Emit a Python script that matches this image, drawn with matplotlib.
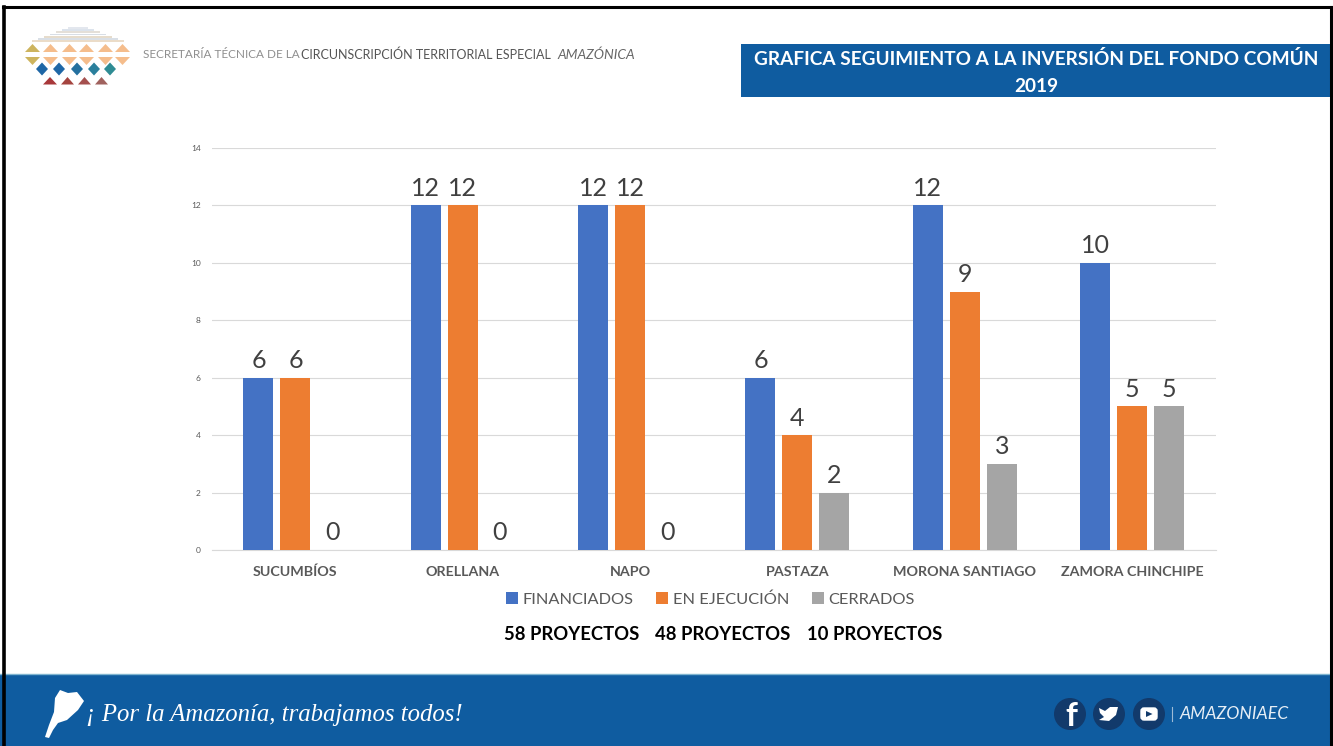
import matplotlib
matplotlib.use("Agg")
import matplotlib.pyplot as plt
from matplotlib.patches import Rectangle, Polygon, Circle, FancyBboxPatch
import numpy as np

categories = ["SUCUMBÍOS", "ORELLANA", "NAPO", "PASTAZA", "MORONA SANTIAGO", "ZAMORA CHINCHIPE"]
financiados = [6, 12, 12, 6, 12, 10]
en_ejecucion = [6, 12, 12, 4, 9, 5]
cerrados = [0, 0, 0, 2, 3, 5]
series_names = ["FINANCIADOS", "EN EJECUCIÓN", "CERRADOS"]
series_colors = ["#4472C4", "#ED7D31", "#A5A5A5"]
y_ticks = [0, 2, 4, 6, 8, 10, 12, 14]
totals = ["58 PROYECTOS", "48 PROYECTOS", "10 PROYECTOS"]

plt.rcParams['font.family'] = ['Lato', 'DejaVu Sans']
W, H = 1333, 746
fig = plt.figure(figsize=(W / 100, H / 100), dpi=100, facecolor="white")

# page layer in pixel coordinates
bg = fig.add_axes([0, 0, 1, 1], zorder=0)
bg.set_xlim(0, W); bg.set_ylim(H, 0); bg.axis("off")
BLUE = "#0F5CA0"
bg.add_patch(Rectangle((0, 674), W, 72, fc=BLUE, ec="none"))
bg.plot([0, W], [673.5, 673.5], color="#7FB4D0", lw=1)
bg.add_patch(Rectangle((741, 44), W - 741, 53, fc=BLUE, ec="none"))
bg.plot([4, 4], [7, H], color="black", lw=2.6)
bg.plot([3, W - 1], [7, 7], color="black", lw=2.2)
bg.plot([1331, 1331], [7, H], color="black", lw=2.2)

bg.text(1036, 59, "GRAFICA SEGUIMIENTO A LA INVERSIÓN DEL FONDO COMÚN", color="white",
        fontsize=13.7, fontweight="bold", ha="center", va="center")
bg.text(1036, 87, "2019", color="white", fontsize=13.7, fontweight="bold", ha="center", va="center")

bg.text(143, 54.5, "SECRETARÍA TÉCNICA DE LA", color="#8F8F8F", fontsize=8.45, va="center", ha="left")
bg.text(301, 54.5, "CIRCUNSCRIPCIÓN TERRITORIAL ESPECIAL", color="#555555", fontsize=9.0, va="center", ha="left")
bg.text(557, 54.5, "AMAZÓNICA", color="#666666", fontsize=9.9, va="center", ha="left", style="italic")

# logo
stripes = ["#E3E7EE", "#DCE3EC", "#E4DFD8", "#D8DEE6", "#E6DCCC", "#D9DFE6", "#EBDCC8"]
for i, c in enumerate(stripes):
    half = 10 + i * 6
    bg.add_patch(Rectangle((78 - half, 27 + i * 2.2), 2 * half, 1.8, fc=c, ec="none"))
for k, x0 in enumerate([25, 43, 62, 79, 98, 115]):
    col = "#CDB45E" if k == 0 else "#F5BD8C"
    bg.add_patch(Polygon([(x0, 52), (x0 + 15, 52), (x0 + 7.5, 44)], fc=col, ec="none"))
    bg.add_patch(Polygon([(x0, 57), (x0 + 15, 57), (x0 + 7.5, 65)], fc=col, ec="none"))
for x, col in zip([42, 59, 77, 94, 110], ["#1F67A6", "#1F67A6", "#24709F", "#2A7F9C", "#2F8C94"]):
    bg.add_patch(Polygon([(x, 62.5), (x + 6, 69), (x, 75.5), (x - 6, 69)], fc=col, ec="none"))
for (x0, x1), col in zip([(43, 57), (61, 74), (78, 91), (95, 108)],
                         ["#A8383A", "#A5443F", "#A5504E", "#A0625E"]):
    bg.add_patch(Polygon([(x0, 84.5), (x1, 84.5), ((x0 + x1) / 2, 77)], fc=col, ec="none"))

# footer
bg.add_patch(Polygon([(60, 690), (68, 693), (77, 692), (84, 701), (78, 710), (67, 720), (58, 723),
                      (53, 730), (49, 738), (45, 737), (49, 725), (54, 712), (55, 698)],
                     fc="white", ec="none"))
bg.text(86, 714.5, "¡ Por la Amazonía, trabajamos todos!", color="white", fontsize=17.8,
        family="Liberation Serif", style="italic", va="center", ha="left")
for cx in [1070, 1109, 1149]:
    bg.add_patch(Circle((cx, 714), 16, fc="#123A6B", ec="none"))
bg.text(1071, 716, "f", color="white", fontsize=24, fontweight="bold", ha="center", va="center")
bg.add_patch(Polygon([(1099, 708), (1105, 711), (1110, 707), (1118, 707), (1116, 715), (1109, 721),
                      (1099, 720), (1104, 717), (1100, 713)], fc="white", ec="none"))
bg.add_patch(FancyBboxPatch((1141, 708), 16, 12, boxstyle="round,pad=0,rounding_size=3", fc="white", ec="white", lw=1))
bg.add_patch(Polygon([(1146, 711), (1146, 717), (1152.5, 714)], fc="#123A6B", ec="none"))
bg.plot([1172, 1172], [707, 721], color="#9DBAD6", lw=0.8)
bg.text(1180, 714, "AMAZONIAEC", color="#E6EEF6", fontsize=12.7, va="center", ha="left", style="italic")

# chart
left, right, top, bottom = 211.8, 1215.8, 148, 550
ax = fig.add_axes([left / W, 1 - bottom / H, (right - left) / W, (bottom - top) / H], zorder=1)
ax.patch.set_alpha(0)
x = np.arange(len(categories))
width = 30 / 167.33
step = 37 / 167.33
for off, vals, col in zip([-step, 0, step], [financiados, en_ejecucion, cerrados], series_colors):
    bars = ax.bar(x + off, vals, width, color=col, zorder=3)
    ax.bar_label(bars, padding=4, fontsize=18, color="#404040")
ax.set_xlim(-0.5, 5.5)
ax.set_ylim(0, 14)
ax.set_yticks(y_ticks)
ax.tick_params(axis="y", length=0, labelsize=6, labelcolor="#595959", pad=8)
ax.tick_params(axis="x", length=0, pad=11.5)
ax.set_xticks(x)
ax.set_xticklabels(categories, fontsize=10.3, fontweight="bold", color="#595959")
ax.grid(axis="y", color="#D9D9D9", lw=0.8, zorder=0)
ax.set_axisbelow(True)
for s in ["top", "left", "right"]:
    ax.spines[s].set_visible(False)
ax.spines["bottom"].set_color("#D9D9D9")

# legend
handles = [Rectangle((0, 0), 1, 1, fc=c, ec="none") for c in series_colors]
fig.legend(handles, series_names, loc="center", bbox_to_anchor=(710.5 / W, 1 - 599.5 / H), ncol=3,
           frameon=False, fontsize=11.8, labelcolor="#595959", handlelength=0.7, handleheight=0.7,
           handletextpad=0.3, columnspacing=1.4)

for cx, t in zip([572, 723, 875], totals):
    bg.text(cx, 634.5, t, color="black", fontsize=13.3, fontweight="bold", ha="center", va="center")

fig.savefig("out.png", dpi=100)
